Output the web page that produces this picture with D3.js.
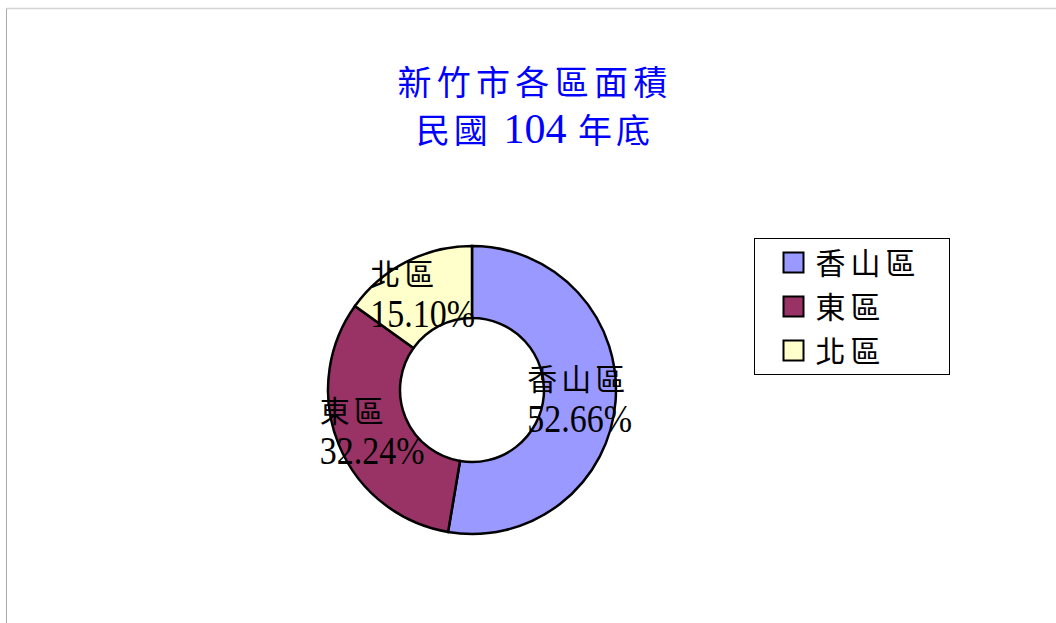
<!DOCTYPE html>
<html>
<head>
<meta charset="utf-8">
<script src="https://cdn.jsdelivr.net/npm/d3@7"></script>
<style>
  body { margin: 0; background: #fff; }
  svg { display: block; }
</style>
</head>
<body>
<svg id="chart"></svg>
<script>
// DATA
const districts = ["香山區", "東區", "北區"];
const shares = [52.66, 32.24, 15.10];
const colors = ["#9999FF", "#993366", "#FFFFCC"];
const titleLines = ["新竹市各區面積", "民國 104 年底"];

const W = 1056, H = 623;
const cjk = "'Noto Sans CJK TC', 'Noto Sans CJK SC', sans-serif";
const serif = "'Liberation Serif', 'DejaVu Serif', serif";

const svg = d3.select("#chart")
  .attr("width", W)
  .attr("height", H);

// frame edges
svg.append("line")
  .attr("x1", 6.5).attr("y1", 8.5).attr("x2", W).attr("y2", 8.5)
  .attr("stroke", "#d4d4d4").attr("stroke-width", 1.5);
svg.append("line")
  .attr("x1", 6.5).attr("y1", 8.5).attr("x2", 6.5).attr("y2", H)
  .attr("stroke", "#aaaaaa").attr("stroke-width", 1);

// TITLE
const title = svg.append("text")
  .attr("text-anchor", "middle")
  .attr("fill", "#0000FF")
  .style("font-family", cjk)
  .style("font-size", "34px");

title.append("tspan")
  .attr("x", 535).attr("y", 95)
  .style("letter-spacing", "5.3px")
  .text(titleLines[0]);

// second line: digits in a serif face
const parts = titleLines[1].split(/(\d+)/);
const line2 = title.append("tspan").attr("x", 535).attr("y", 143);
parts.forEach((p, i) => {
  const t = i === 0 ? line2 : title.append("tspan");
  t.text(p).style("letter-spacing", "4px");
  if (/\d/.test(p)) {
    t.style("font-family", serif).style("font-size", "42px").style("letter-spacing", "0px");
  }
});

// DONUT
const cx = 472, cy = 390;
const outerR = 144, innerR = 72;

const data = districts.map((d, i) => ({ name: d, value: shares[i], color: colors[i] }));

const pie = d3.pie()
  .value(d => d.value)
  .sort(null);

const arc = d3.arc()
  .innerRadius(innerR)
  .outerRadius(outerR);

const g = svg.append("g")
  .attr("transform", `translate(${cx}, ${cy})`);

const arcs = pie(data);

g.selectAll("path")
  .data(arcs)
  .enter()
  .append("path")
  .attr("d", arc)
  .attr("fill", d => d.data.color)
  .attr("stroke", "#000")
  .attr("stroke-width", 2.5)
  .attr("stroke-linejoin", "miter");

// LABELS: two left-aligned lines, block centred on the arc centroid
const labels = g.selectAll("g.label")
  .data(arcs)
  .enter()
  .append("g")
  .attr("class", "label");

labels.append("text")
  .attr("class", "name")
  .attr("y", -9)
  .style("font-family", cjk)
  .style("font-size", "30px")
  .style("letter-spacing", "4px")
  .text(d => d.data.name);

labels.append("text")
  .attr("class", "pct")
  .attr("transform", "translate(0, 33) scale(1, 1.2)")
  .style("font-family", serif)
  .style("font-size", "34px")
  .text(d => d.data.value.toFixed(2) + "%");

labels.each(function(d) {
  const lab = d3.select(this);
  const w = Math.max(
    lab.select(".name").node().getComputedTextLength() - 4,
    lab.select(".pct").node().getComputedTextLength()
  );
  const [x, y] = arc.centroid(d);
  lab.attr("transform", `translate(${x - w / 2}, ${y})`);
});

// LEGEND
const legend = svg.append("g")
  .attr("transform", "translate(754.5, 238.5)");

legend.append("rect")
  .attr("width", 195)
  .attr("height", 136)
  .attr("fill", "#fff")
  .attr("stroke", "#000")
  .attr("stroke-width", 1);

const rowY = d3.scalePoint()
  .domain(districts)
  .range([24, 112]);

const items = legend.selectAll("g.item")
  .data(data)
  .enter()
  .append("g")
  .attr("class", "item")
  .attr("transform", d => `translate(0, ${rowY(d.name)})`);

items.append("rect")
  .attr("x", 29)
  .attr("y", -10)
  .attr("width", 20)
  .attr("height", 20)
  .attr("fill", d => d.color)
  .attr("stroke", "#000")
  .attr("stroke-width", 2);

items.append("text")
  .attr("x", 61)
  .attr("y", 11)
  .style("font-family", cjk)
  .style("font-size", "30px")
  .style("letter-spacing", "5px")
  .text(d => d.name);
</script>
</body>
</html>
